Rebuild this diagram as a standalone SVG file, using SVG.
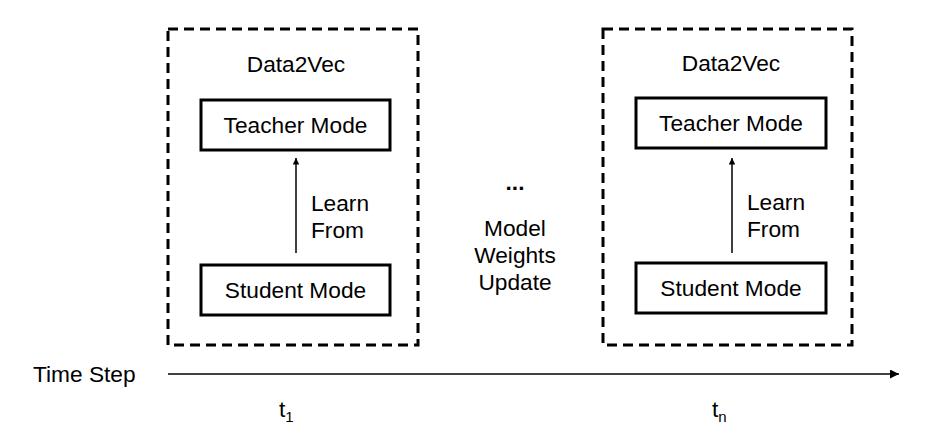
<svg xmlns="http://www.w3.org/2000/svg" width="927" height="444" viewBox="0 0 927 444">
<defs>
<style>
text{font-family:"Liberation Sans",Arial,sans-serif;font-size:22.7px;fill:#000}
.c{text-anchor:middle}
.dash{fill:none;stroke:#000;stroke-width:3;stroke-dasharray:10 6}
.box{fill:#fff;stroke:#000;stroke-width:3}
.ln{stroke:#000;stroke-width:1.5;fill:none}
</style>
<marker id="ah" viewBox="0 0 10 10" refX="10" refY="5" markerWidth="6.5" markerHeight="6.5" markerUnits="userSpaceOnUse" orient="auto"><path d="M0,0 L10,5 L0,10 z" fill="#000"/></marker>
<marker id="ah2" viewBox="0 0 10 10" refX="10" refY="5" markerWidth="9" markerHeight="9" markerUnits="userSpaceOnUse" orient="auto"><path d="M0,0 L10,5 L0,10 z" fill="#000"/></marker>
</defs>
<g id="frame1">
<rect class="dash" x="168" y="29" width="250" height="316"/>
<text class="c" x="296" y="72">Data2Vec</text>
</g>
<g id="teacher1"><rect class="box" x="201" y="100" width="189" height="50"/><text class="c" x="295.5" y="133">Teacher Mode</text></g>
<g id="student1"><rect class="box" x="201" y="265" width="189" height="50"/><text class="c" x="295.5" y="298">Student Mode</text></g>
<g id="frame2">
<rect class="dash" x="603" y="29" width="249" height="316"/>
<text class="c" x="731" y="71">Data2Vec</text>
</g>
<g id="teacher2"><rect class="box" x="636" y="98" width="190" height="50"/><text class="c" x="731" y="131">Teacher Mode</text></g>
<g id="student2"><rect class="box" x="636" y="263" width="190" height="50"/><text class="c" x="731" y="296">Student Mode</text></g>
<g id="middle">
<text class="c" x="515" y="190" font-weight="bold">...</text>
<text class="c" x="515" y="236">Model</text>
<text class="c" x="515" y="263">Weights</text>
<text class="c" x="515" y="290">Update</text>
</g>
<g id="timeline-labels">
<text x="33" y="382" font-size="23.5">Time Step</text>
<text x="279" y="417">t<tspan font-size="15" dy="5">1</tspan></text>
<text x="712" y="417">t<tspan font-size="15" dy="5">n</tspan></text>
</g>
<g id="connectors">
<line class="ln" x1="296" y1="253" x2="296" y2="158" marker-end="url(#ah)"/>
<text x="311" y="211">Learn</text><text x="311" y="238">From</text>
<line class="ln" x1="732" y1="253" x2="732" y2="158" marker-end="url(#ah)"/>
<text x="747" y="210">Learn</text><text x="747" y="237">From</text>
<line class="ln" x1="168" y1="374" x2="899" y2="374" marker-end="url(#ah2)"/>
</g>
</svg>
